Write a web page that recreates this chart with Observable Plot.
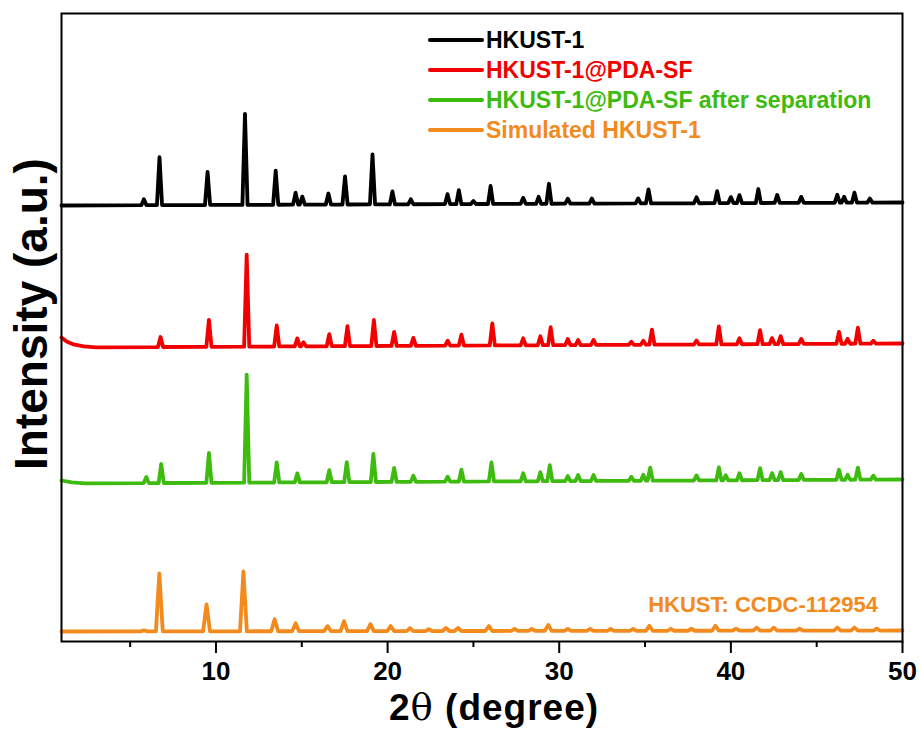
<!DOCTYPE html>
<html>
<head>
<meta charset="utf-8">
<script src="https://cdn.jsdelivr.net/npm/d3@7"></script>
<script src="https://cdn.jsdelivr.net/npm/@observablehq/plot@0.6"></script>
<style>
  html, body { margin: 0; padding: 0; background: #fff; }
  #chart { position: relative; width: 921px; height: 729px; }
  svg { font-family: "Liberation Sans", Arial, sans-serif; }
</style>
</head>
<body>
<div id="chart"></div>
<script>
// ---- data ----
const seriesNames = ["HKUST-1", "HKUST-1@PDA-SF", "HKUST-1@PDA-SF after separation", "Simulated HKUST-1"];
const seriesColors = ["#000000", "#f20000", "#3dbb0e", "#f38a1e"];
const xTicks = [10, 20, 30, 40, 50];
const xMinorTicks = [5, 15, 25, 35, 45];
const xRange = [1, 50];

// baseline level (a.u.) at 2θ = 1 and at 2θ = 50 for each pattern (vertically offset)
const baseHKUST = [436, 439];
const basePDA = [294, 298];
const baseSep = [158, 162];
const baseSim = [10, 11];

// leading background (2θ, height above baseline)
const leadHKUST = [];
const leadPDA = [[1.0, 10], [1.3, 6], [1.7, 3], [2.3, 1], [3.0, 0]];
const leadSep = [[1.0, 3], [1.6, 1], [2.4, 0]];
const leadSim = [];

// peaks (2θ, height above baseline)
const peaksHKUST = [[5.8,6],[6.71,48],[9.51,33],[11.69,91],[13.48,34],[14.64,12],[15.03,8],[16.55,11],[17.52,28],[19.12,50],[20.28,13],[21.35,5],[23.49,10],[24.15,14],[25.0,3],[26.0,18],[27.9,6],[28.8,7],[29.4,20],[30.5,5],[31.9,5],[34.6,5],[35.2,14],[38.0,6],[39.2,12],[40.0,6],[40.5,8],[41.6,14],[42.7,8],[44.1,6],[46.2,8],[46.6,6],[47.2,10],[48.1,4]];
const peaksPDA = [[6.77,10],[9.59,27],[11.79,92],[13.54,21],[14.74,8],[15.1,4],[16.6,12],[17.66,20],[19.2,26],[20.38,14],[21.5,8],[23.5,5],[24.3,11],[26.1,22],[27.9,7],[28.9,9],[29.5,18],[30.5,6],[31.1,5],[32.0,5],[34.2,3],[34.9,4],[35.4,15],[38.0,4],[39.3,18],[40.5,6],[41.7,14],[42.4,6],[42.9,8],[44.1,5],[46.3,12],[46.8,5],[47.4,16],[48.3,3]];
const peaksSep = [[5.94,6],[6.81,19],[9.59,30],[11.79,108],[13.54,20],[14.74,9],[16.6,12],[17.62,20],[19.17,28],[20.38,14],[21.5,6],[23.5,5],[24.3,12],[26.05,19],[27.9,8],[28.9,9],[29.45,16],[30.5,5],[31.1,6],[32.0,6],[34.2,4],[34.9,6],[35.3,13],[38.0,5],[39.3,13],[39.7,5],[40.5,7],[41.7,12],[42.4,7],[42.9,8],[44.1,6],[46.3,10],[46.8,5],[47.4,12],[48.3,4]];
const peaksSim = [[5.8,1],[6.70,58],[9.45,27],[11.6,60],[13.42,12],[14.64,8],[16.5,5],[17.46,10],[19.0,7],[20.18,5],[21.3,3],[22.4,2],[23.4,3],[24.1,3],[25.9,5],[27.4,2],[28.4,2],[29.36,6],[30.5,2],[31.8,2],[33.0,2],[34.3,2],[35.25,5],[36.5,2],[37.7,2],[39.1,5],[40.3,2],[41.5,3],[42.5,3],[44.0,2],[46.2,3],[47.2,3],[48.5,2]];

const simNote = "HKUST: CCDC-112954";
const xLabel = "2θ (degree)";
const yLabel = "Intensity (a.u.)";

// ---- build line vertices from the values above ----
function buildRows(name, base, lead, peaks, halfWidth) {
  const at = x => base[0] + (base[1] - base[0]) * (x - xRange[0]) / (xRange[1] - xRange[0]);
  const pts = [];
  lead.forEach(([x, h]) => pts.push([x, at(x) + h]));
  if (!lead.length) pts.push([xRange[0], at(xRange[0])]);
  peaks.forEach(([x, h]) => {
    pts.push([x - halfWidth, at(x - halfWidth)]);
    pts.push([x, at(x) + h]);
    pts.push([x + halfWidth, at(x + halfWidth)]);
  });
  pts.push([xRange[1], at(xRange[1])]);
  pts.sort((a, b) => a[0] - b[0]);
  return pts.map(([x, y]) => ({name, x, y}));
}

const rows = [
  ...buildRows(seriesNames[0], baseHKUST, leadHKUST, peaksHKUST, 0.15),
  ...buildRows(seriesNames[1], basePDA, leadPDA, peaksPDA, 0.15),
  ...buildRows(seriesNames[2], baseSep, leadSep, peaksSep, 0.15),
  ...buildRows(seriesNames[3], baseSim, leadSim, peaksSim, 0.2)
];

const W = 921, H = 729;
const mL = 61, mR = 19, mT = 13, mB = 88;

const plot = Plot.plot({
  width: W, height: H,
  marginLeft: mL, marginRight: mR, marginTop: mT, marginBottom: mB,
  x: {domain: xRange},
  y: {domain: [0, 628], axis: null},
  color: {domain: seriesNames, range: seriesColors},
  style: {fontFamily: '"Liberation Sans", Arial, sans-serif', background: "#fff"},
  marks: [
    Plot.line(rows, {x: "x", y: "y", z: "name", stroke: "name", strokeWidth: 3.8, strokeLinejoin: "round", strokeLinecap: "round", curve: "linear"}),
    Plot.frame({stroke: "#000", strokeWidth: 2}),
    Plot.axisX({ticks: xTicks, tickSize: 12, tickPadding: 8, strokeWidth: 2, fontSize: 26, fontWeight: "bold", label: null, tickFormat: d => d, fill: "#000"}),
    Plot.axisX({ticks: xMinorTicks, tickSize: 6, strokeWidth: 2, tickFormat: () => "", label: null})
  ]
});
document.getElementById("chart").appendChild(plot);

// ---- legend, annotation, axis titles ----
const svg = d3.select(plot);
const leg = svg.append("g").attr("text-anchor", "start");
seriesNames.forEach((name, i) => {
  const cy = 40 + i * 30;
  leg.append("line").attr("x1", 430).attr("x2", 482).attr("y1", cy).attr("y2", cy)
    .attr("stroke", seriesColors[i]).attr("stroke-width", 4).attr("stroke-linecap", "round");
  leg.append("text").attr("x", 486).attr("y", cy + 8).attr("text-anchor", "start")
    .attr("fill", seriesColors[i]).attr("font-size", 23).attr("font-weight", "bold")
    .text(name);
});
svg.append("text").attr("x", 878).attr("y", 612).attr("text-anchor", "end")
  .attr("fill", seriesColors[3]).attr("font-size", 22).attr("font-weight", "bold").text(simNote);

const xl = svg.append("text").attr("x", 494).attr("y", 720).attr("text-anchor", "middle")
  .attr("font-size", 37).attr("font-weight", "bold").attr("fill", "#000").attr("letter-spacing", 1);
xl.append("tspan").text(xLabel.slice(0, 1));
xl.append("tspan").attr("font-weight", "normal").attr("font-family", '"DejaVu Serif", serif').text(xLabel.slice(1, 2));
xl.append("tspan").text(xLabel.slice(2));

svg.append("text").attr("transform", "translate(47,314) rotate(-90)").attr("text-anchor", "middle")
  .attr("font-size", 46).attr("font-weight", "bold").attr("fill", "#000").text(yLabel);
</script>
</body>
</html>
